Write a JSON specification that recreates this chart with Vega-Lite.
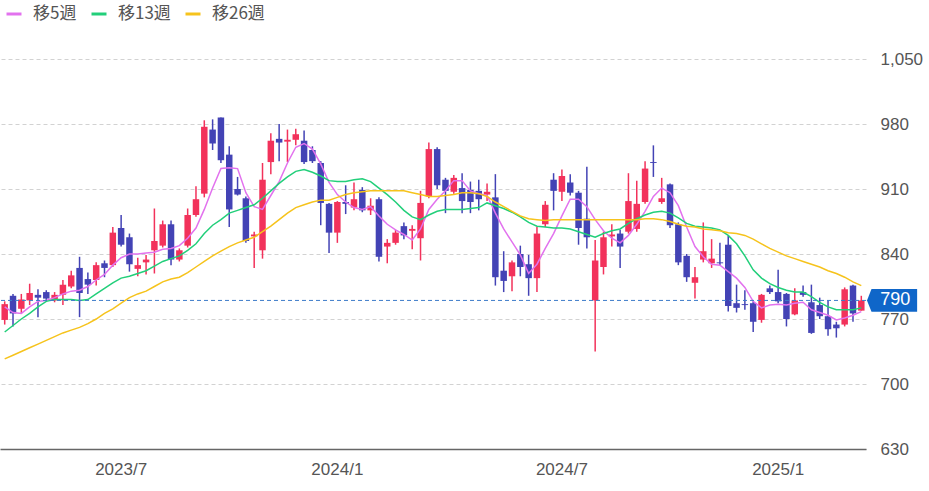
{
  "$schema": "https://vega.github.io/schema/vega-lite/v6.json",
  "width": 866,
  "height": 390,
  "autosize": {"type": "none"},
  "padding": {"left": 0, "top": 59, "right": 63, "bottom": 42},
  "background": "#ffffff",
  "config": {"view": {"stroke": null}, "font": "Liberation Sans"},
  "datasets": {
    "w": [
      {"d":"2023-03-27","o":769,"h":789,"l":764,"c":786,"ma5":783,"ma13":756,"ma26":727},
      {"d":"2023-04-03","o":795,"h":797,"l":762,"c":776,"ma5":777,"ma13":763,"ma26":731},
      {"d":"2023-04-10","o":781,"h":797,"l":776,"c":791,"ma5":776,"ma13":770,"ma26":735},
      {"d":"2023-04-17","o":790,"h":808,"l":785,"c":798,"ma5":783,"ma13":776,"ma26":739},
      {"d":"2023-04-24","o":796,"h":802,"l":772,"c":793,"ma5":789,"ma13":783,"ma26":743},
      {"d":"2023-05-01","o":799,"h":801,"l":790,"c":792,"ma5":790,"ma13":789,"ma26":747},
      {"d":"2023-05-08","o":790,"h":799,"l":788,"c":796,"ma5":793,"ma13":791,"ma26":751},
      {"d":"2023-05-15","o":796,"h":812,"l":785,"c":807,"ma5":797,"ma13":791,"ma26":755},
      {"d":"2023-05-22","o":805,"h":822,"l":803,"c":817,"ma5":800,"ma13":791,"ma26":758},
      {"d":"2023-05-29","o":825,"h":837,"l":772,"c":798,"ma5":801,"ma13":790,"ma26":761},
      {"d":"2023-06-05","o":813,"h":820,"l":797,"c":807,"ma5":805,"ma13":791,"ma26":765},
      {"d":"2023-06-12","o":812,"h":831,"l":806,"c":828,"ma5":812,"ma13":797,"ma26":770},
      {"d":"2023-06-19","o":830,"h":833,"l":815,"c":825,"ma5":818,"ma13":803,"ma26":776},
      {"d":"2023-06-26","o":828,"h":869,"l":826,"c":863,"ma5":828,"ma13":809,"ma26":781},
      {"d":"2023-07-03","o":868,"h":882,"l":848,"c":850,"ma5":836,"ma13":814,"ma26":787},
      {"d":"2023-07-10","o":858,"h":862,"l":821,"c":829,"ma5":840,"ma13":816,"ma26":793},
      {"d":"2023-07-17","o":824,"h":836,"l":816,"c":828,"ma5":840,"ma13":819,"ma26":797},
      {"d":"2023-07-24","o":831,"h":839,"l":818,"c":834,"ma5":841,"ma13":822,"ma26":800},
      {"d":"2023-07-31","o":844,"h":889,"l":819,"c":854,"ma5":842,"ma13":827,"ma26":805},
      {"d":"2023-08-07","o":849,"h":876,"l":847,"c":872,"ma5":845,"ma13":832,"ma26":810},
      {"d":"2023-08-14","o":872,"h":876,"l":828,"c":834,"ma5":846,"ma13":835,"ma26":813},
      {"d":"2023-08-21","o":834,"h":846,"l":832,"c":844,"ma5":849,"ma13":838,"ma26":815},
      {"d":"2023-08-28","o":849,"h":889,"l":847,"c":882,"ma5":857,"ma13":844,"ma26":820},
      {"d":"2023-09-04","o":882,"h":913,"l":880,"c":899,"ma5":868,"ma13":851,"ma26":826},
      {"d":"2023-09-11","o":905,"h":984,"l":901,"c":977,"ma5":888,"ma13":862,"ma26":832},
      {"d":"2023-09-18","o":974,"h":985,"l":952,"c":959,"ma5":911,"ma13":871,"ma26":838},
      {"d":"2023-09-25","o":987,"h":987,"l":938,"c":941,"ma5":932,"ma13":877,"ma26":843},
      {"d":"2023-10-02","o":947,"h":956,"l":869,"c":888,"ma5":933,"ma13":884,"ma26":848},
      {"d":"2023-10-09","o":910,"h":923,"l":903,"c":904,"ma5":932,"ma13":887,"ma26":852},
      {"d":"2023-10-16","o":900,"h":902,"l":852,"c":854,"ma5":906,"ma13":890,"ma26":855},
      {"d":"2023-10-23","o":859,"h":864,"l":825,"c":861,"ma5":891,"ma13":893,"ma26":858},
      {"d":"2023-10-30","o":844,"h":938,"l":835,"c":920,"ma5":888,"ma13":900,"ma26":864},
      {"d":"2023-11-06","o":939,"h":970,"l":926,"c":962,"ma5":903,"ma13":908,"ma26":870},
      {"d":"2023-11-13","o":964,"h":980,"l":940,"c":960,"ma5":918,"ma13":916,"ma26":877},
      {"d":"2023-11-20","o":961,"h":974,"l":939,"c":963,"ma5":938,"ma13":923,"ma26":884},
      {"d":"2023-11-27","o":963,"h":975,"l":957,"c":969,"ma5":955,"ma13":929,"ma26":890},
      {"d":"2023-12-04","o":962,"h":973,"l":937,"c":939,"ma5":959,"ma13":931,"ma26":893},
      {"d":"2023-12-11","o":952,"h":956,"l":938,"c":940,"ma5":953,"ma13":928,"ma26":896},
      {"d":"2023-12-18","o":938,"h":940,"l":871,"c":895,"ma5":937,"ma13":924,"ma26":898},
      {"d":"2023-12-25","o":894,"h":895,"l":841,"c":863,"ma5":917,"ma13":919,"ma26":898},
      {"d":"2024-01-01","o":863,"h":897,"l":852,"c":896,"ma5":904,"ma13":918,"ma26":901},
      {"d":"2024-01-08","o":896,"h":914,"l":883,"c":894,"ma5":896,"ma13":918,"ma26":904},
      {"d":"2024-01-15","o":890,"h":917,"l":887,"c":899,"ma5":890,"ma13":920,"ma26":906},
      {"d":"2024-01-22","o":909,"h":912,"l":885,"c":887,"ma5":888,"ma13":921,"ma26":907},
      {"d":"2024-01-29","o":887,"h":900,"l":882,"c":892,"ma5":891,"ma13":918,"ma26":908},
      {"d":"2024-02-05","o":899,"h":901,"l":832,"c":837,"ma5":881,"ma13":911,"ma26":908},
      {"d":"2024-02-12","o":848,"h":856,"l":830,"c":852,"ma5":872,"ma13":904,"ma26":908},
      {"d":"2024-02-19","o":852,"h":866,"l":850,"c":863,"ma5":866,"ma13":896,"ma26":908},
      {"d":"2024-02-26","o":870,"h":874,"l":856,"c":860,"ma5":861,"ma13":887,"ma26":908},
      {"d":"2024-03-04","o":865,"h":871,"l":845,"c":867,"ma5":855,"ma13":880,"ma26":906},
      {"d":"2024-03-11","o":857,"h":908,"l":833,"c":895,"ma5":867,"ma13":877,"ma26":904},
      {"d":"2024-03-18","o":902,"h":960,"l":900,"c":953,"ma5":888,"ma13":882,"ma26":902},
      {"d":"2024-03-25","o":953,"h":955,"l":910,"c":914,"ma5":899,"ma13":886,"ma26":902},
      {"d":"2024-04-01","o":920,"h":922,"l":884,"c":908,"ma5":908,"ma13":888,"ma26":903},
      {"d":"2024-04-08","o":907,"h":925,"l":905,"c":922,"ma5":919,"ma13":888,"ma26":904},
      {"d":"2024-04-15","o":911,"h":927,"l":884,"c":897,"ma5":919,"ma13":888,"ma26":906},
      {"d":"2024-04-22","o":909,"h":918,"l":884,"c":896,"ma5":908,"ma13":889,"ma26":906},
      {"d":"2024-04-29","o":908,"h":920,"l":887,"c":899,"ma5":905,"ma13":890,"ma26":905},
      {"d":"2024-05-06","o":904,"h":916,"l":897,"c":907,"ma5":903,"ma13":895,"ma26":902},
      {"d":"2024-05-13","o":901,"h":926,"l":806,"c":815,"ma5":884,"ma13":892,"ma26":896},
      {"d":"2024-05-20","o":822,"h":843,"l":799,"c":811,"ma5":867,"ma13":889,"ma26":891},
      {"d":"2024-05-27","o":816,"h":833,"l":800,"c":831,"ma5":853,"ma13":885,"ma26":886},
      {"d":"2024-06-03","o":840,"h":849,"l":816,"c":826,"ma5":839,"ma13":880,"ma26":881},
      {"d":"2024-06-10","o":829,"h":839,"l":795,"c":814,"ma5":819,"ma13":874,"ma26":878},
      {"d":"2024-06-17","o":814,"h":869,"l":799,"c":862,"ma5":829,"ma13":870,"ma26":877},
      {"d":"2024-06-24","o":872,"h":897,"l":869,"c":893,"ma5":846,"ma13":869,"ma26":876},
      {"d":"2024-07-01","o":920,"h":927,"l":887,"c":908,"ma5":862,"ma13":868,"ma26":877},
      {"d":"2024-07-08","o":907,"h":931,"l":897,"c":924,"ma5":881,"ma13":868,"ma26":877},
      {"d":"2024-07-15","o":917,"h":926,"l":903,"c":906,"ma5":899,"ma13":867,"ma26":877},
      {"d":"2024-07-22","o":906,"h":908,"l":850,"c":868,"ma5":899,"ma13":864,"ma26":877},
      {"d":"2024-07-29","o":878,"h":934,"l":846,"c":858,"ma5":891,"ma13":861,"ma26":877},
      {"d":"2024-08-05","o":790,"h":855,"l":735,"c":833,"ma5":877,"ma13":858,"ma26":877},
      {"d":"2024-08-12","o":826,"h":864,"l":818,"c":858,"ma5":865,"ma13":862,"ma26":877},
      {"d":"2024-08-19","o":859,"h":872,"l":848,"c":861,"ma5":857,"ma13":865,"ma26":877},
      {"d":"2024-08-26","o":862,"h":866,"l":825,"c":848,"ma5":852,"ma13":867,"ma26":877},
      {"d":"2024-09-02","o":864,"h":927,"l":862,"c":897,"ma5":860,"ma13":873,"ma26":877},
      {"d":"2024-09-09","o":867,"h":919,"l":864,"c":894,"ma5":872,"ma13":878,"ma26":877},
      {"d":"2024-09-16","o":896,"h":940,"l":894,"c":932,"ma5":886,"ma13":882,"ma26":878},
      {"d":"2024-09-23","o":939,"h":957,"l":923,"c":938,"ma5":902,"ma13":885,"ma26":878},
      {"d":"2024-09-30","o":896,"h":922,"l":894,"c":900,"ma5":911,"ma13":886,"ma26":877},
      {"d":"2024-10-07","o":915,"h":916,"l":868,"c":871,"ma5":906,"ma13":884,"ma26":875},
      {"d":"2024-10-14","o":872,"h":874,"l":828,"c":831,"ma5":892,"ma13":879,"ma26":872},
      {"d":"2024-10-21","o":838,"h":840,"l":810,"c":815,"ma5":869,"ma13":873,"ma26":870},
      {"d":"2024-10-28","o":809,"h":826,"l":792,"c":815,"ma5":848,"ma13":870,"ma26":869},
      {"d":"2024-11-04","o":834,"h":874,"l":831,"c":843,"ma5":837,"ma13":869,"ma26":867},
      {"d":"2024-11-11","o":830,"h":856,"l":825,"c":835,"ma5":829,"ma13":868,"ma26":866},
      {"d":"2024-11-18","o":831,"h":852,"l":828,"c":830,"ma5":828,"ma13":866,"ma26":865},
      {"d":"2024-11-25","o":850,"h":860,"l":778,"c":784,"ma5":821,"ma13":860,"ma26":863},
      {"d":"2024-12-02","o":787,"h":807,"l":777,"c":782,"ma5":814,"ma13":851,"ma26":862},
      {"d":"2024-12-09","o":786,"h":801,"l":780,"c":785,"ma5":804,"ma13":838,"ma26":860},
      {"d":"2024-12-16","o":787,"h":789,"l":756,"c":767,"ma5":789,"ma13":823,"ma26":856},
      {"d":"2024-12-23","o":769,"h":797,"l":766,"c":796,"ma5":782,"ma13":814,"ma26":851},
      {"d":"2024-12-30","o":803,"h":806,"l":797,"c":799,"ma5":785,"ma13":808,"ma26":846},
      {"d":"2025-01-06","o":799,"h":823,"l":787,"c":789,"ma5":786,"ma13":804,"ma26":842},
      {"d":"2025-01-13","o":797,"h":798,"l":762,"c":770,"ma5":785,"ma13":801,"ma26":838},
      {"d":"2025-01-20","o":775,"h":803,"l":774,"c":790,"ma5":787,"ma13":799,"ma26":835},
      {"d":"2025-01-27","o":799,"h":806,"l":794,"c":796,"ma5":788,"ma13":799,"ma26":832},
      {"d":"2025-02-03","o":788,"h":807,"l":754,"c":755,"ma5":780,"ma13":794,"ma26":829},
      {"d":"2025-02-10","o":785,"h":793,"l":770,"c":773,"ma5":777,"ma13":788,"ma26":826},
      {"d":"2025-02-17","o":773,"h":790,"l":752,"c":759,"ma5":774,"ma13":783,"ma26":822},
      {"d":"2025-02-24","o":764,"h":767,"l":750,"c":760,"ma5":769,"ma13":780,"ma26":819},
      {"d":"2025-03-03","o":764,"h":804,"l":762,"c":802,"ma5":771,"ma13":780,"ma26":815},
      {"d":"2025-03-10","o":806,"h":807,"l":767,"c":776,"ma5":774,"ma13":780,"ma26":810},
      {"d":"2025-03-17","o":779,"h":795,"l":779,"c":790,"ma5":778,"ma13":782,"ma26":806}
    ],
    "last": [{"d": "2025-03-17", "price": 790}]
  },
  "data": {"name": "w"},
  "layer": [
    {
      "mark": {"type": "rule", "strokeWidth": 1.5},
      "encoding": {
        "x": {
          "field": "d", "type": "ordinal",
          "scale": {"paddingInner": 0.22, "paddingOuter": 0.175},
          "axis": {
            "title": null,
            "values": ["2023-07-03", "2024-01-01", "2024-07-08", "2025-01-06"],
            "labelExpr": "substring(datum.value,0,4) + '/' + toNumber(substring(datum.value,5,7))",
            "labelAngle": 0, "ticks": false, "grid": false,
            "domain": true, "domainColor": "#666666", "domainWidth": 1.5,
            "labelFont": "Liberation Sans", "labelFontSize": 17, "labelColor": "#555555",
            "labelPadding": 12
          }
        },
        "y": {
          "field": "l", "type": "quantitative",
          "scale": {"domain": [630, 1050], "zero": false, "nice": false},
          "axis": {
            "title": null, "orient": "right",
            "values": [630, 700, 770, 840, 910, 980, 1050],
            "format": ",.0f",
            "ticks": false, "domain": false,
            "grid": true, "gridColor": "#d2d2d2", "gridDash": [4, 3], "gridWidth": 1,
            "labelFont": "Liberation Sans", "labelFontSize": 17, "labelColor": "#555555",
            "labelPadding": 14
          }
        },
        "y2": {"field": "h"},
        "color": {"condition": {"test": "datum.c >= datum.o", "value": "#f2325b"}, "value": "#4343b5"}
      }
    },
    {
      "mark": {"type": "bar"},
      "encoding": {
        "x": {"field": "d", "type": "ordinal"},
        "y": {"field": "o", "type": "quantitative"},
        "y2": {"field": "c"},
        "color": {"condition": {"test": "datum.c >= datum.o", "value": "#f2325b"}, "value": "#4343b5"}
      }
    },
    {
      "transform": [{"fold": ["ma5", "ma13", "ma26"], "as": ["key", "ma"]}],
      "mark": {"type": "line", "strokeWidth": 1.5},
      "encoding": {
        "x": {"field": "d", "type": "ordinal"},
        "y": {"field": "ma", "type": "quantitative"},
        "color": {
          "field": "key", "type": "nominal",
          "scale": {"domain": ["ma5", "ma13", "ma26"], "range": ["#e272ee", "#22cf7a", "#f6c31c"]},
          "legend": {
            "title": null, "orient": "none", "legendX": 5, "legendY": -54,
            "direction": "horizontal",
            "labelExpr": "{'ma5':'移5週','ma13':'移13週','ma26':'移26週'}[datum.value]",
            "symbolType": "stroke", "symbolStrokeWidth": 3, "symbolSize": 225,
            "labelFont": "Noto Sans CJK JP", "labelFontSize": 17, "labelColor": "#555555",
            "labelOffset": 10, "columnPadding": 8, "padding": 0
          }
        }
      }
    },
    {
      "data": {"name": "last"},
      "mark": {"type": "rule", "strokeDash": [4, 3], "strokeWidth": 1, "color": "#3d7cc9"},
      "encoding": {"y": {"field": "price", "type": "quantitative"}}
    },
    {
      "data": {"name": "last"},
      "mark": {"type": "point", "shape": "M0.095,0L0.17,-0.19L0.93,-0.19L0.93,0.19L0.17,0.19Z", "filled": true, "size": 14400, "color": "#0f66c9", "opacity": 1, "strokeWidth": 0},
      "encoding": {
        "x": {"field": "d", "type": "ordinal"},
        "y": {"field": "price", "type": "quantitative"}
      }
    },
    {
      "data": {"name": "last"},
      "mark": {"type": "text", "dx": 34, "align": "center", "baseline": "middle", "color": "#ffffff", "fontSize": 18, "font": "Liberation Sans"},
      "encoding": {
        "x": {"field": "d", "type": "ordinal"},
        "y": {"field": "price", "type": "quantitative"},
        "text": {"field": "price", "type": "quantitative", "format": ","}
      }
    }
  ]
}
